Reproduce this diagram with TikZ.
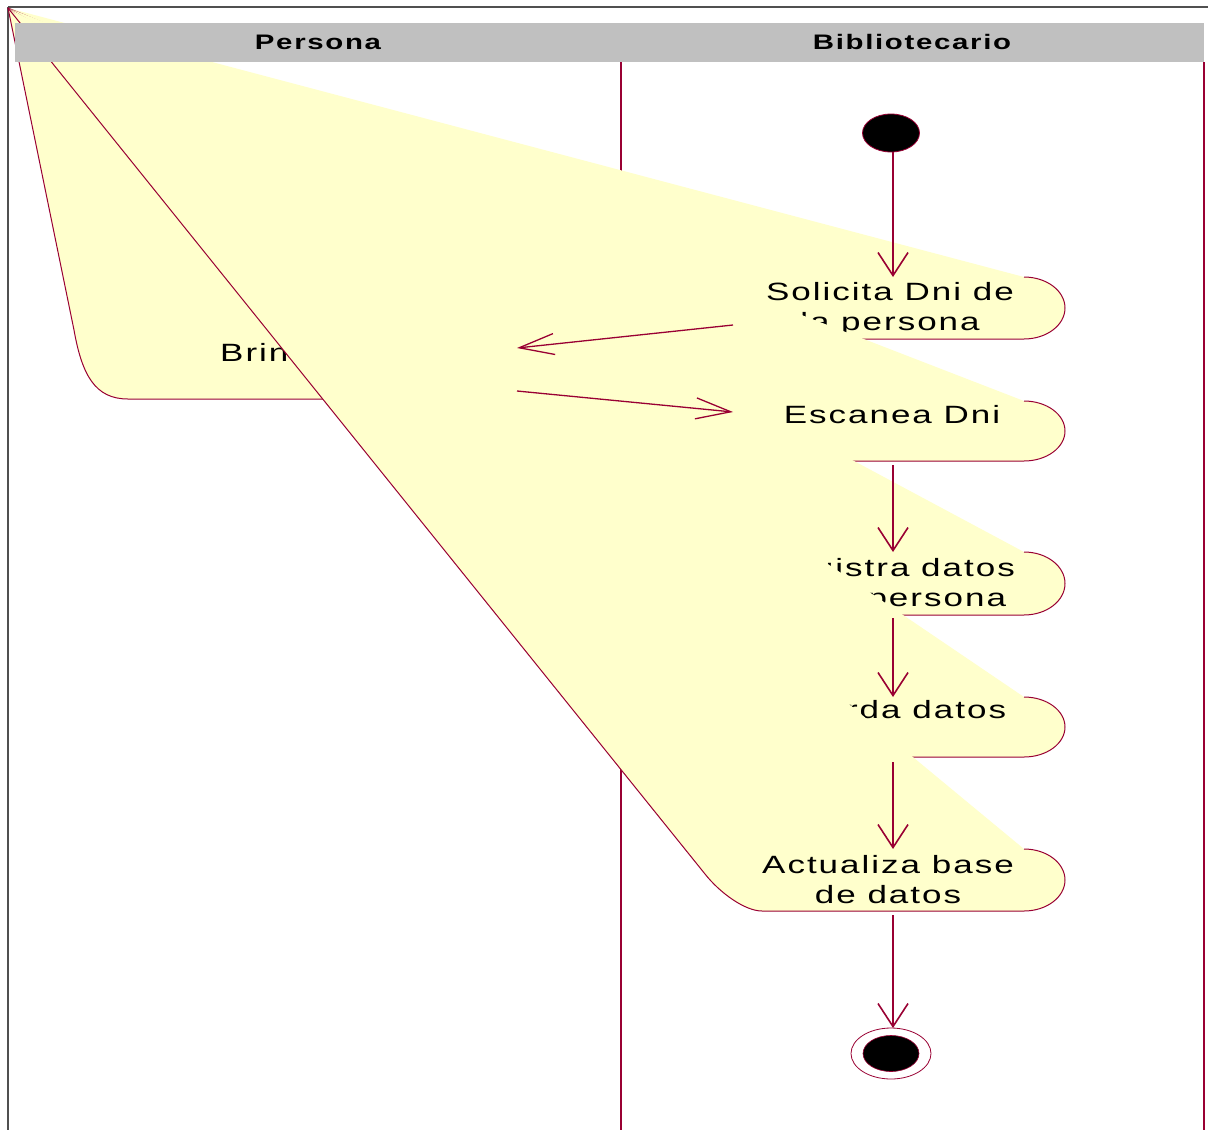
\documentclass[tikz,border=0pt]{standalone}
\usepackage{fontspec}
\setmainfont{Liberation Sans}
\newfontfamily\actfont[FakeStretch=1.4,LetterSpace=8]{Liberation Sans}
\usetikzlibrary{arrows.meta,shapes.geometric}
\definecolor{rosered}{RGB}{153,0,51}
\definecolor{actyellow}{RGB}{255,255,204}
\definecolor{hdrgray}{RGB}{192,192,192}
\definecolor{framegray}{RGB}{80,80,80}
\tikzset{
  actfill/.style={fill=actyellow},
  actline/.style={draw=rosered,line width=1pt},
  lane/.style={draw=rosered,line width=1.3pt},
  frameline/.style={draw=framegray,line width=2.2pt},
  acttext/.style={font={\actfont\fontsize{25}{30}\selectfont},align=center,inner sep=0pt,anchor=base},
  hdrtext/.style={font={\actfont\bfseries\fontsize{21}{25}\selectfont},inner sep=0pt},
  vflow/.style={draw=rosered,line width=1.6pt,-{Straight Barb[length=23pt,width=30pt]}},
  hflow/.style={draw=rosered,line width=1.3pt,-{Straight Barb[length=35pt,width=21pt]}},
}
% activity shape of the Bibliotecario lane: #1 top, #2 bottom
\newcommand\bibshape[2]{%
  \pgfmathsetmacro\ymidv{(#1+#2)/2}%
  \pgfmathsetmacro\yqa{\ymidv-(#2-#1)/2*0.5523}%
  \pgfmathsetmacro\yqb{\ymidv+(#2-#1)/2*0.5523}%
  \fill[actfill] (8,8) -- (1024,#1) .. controls (1046.6,#1) and (1065,\yqa) .. (1065,\ymidv)
     .. controls (1065,\yqb) and (1046.6,#2) .. (1024,#2) -- (762,#2)
     .. controls (745,#2) and (720,#2-18) .. (705,#2-37) -- cycle;
  \draw[actline] (1024,#1) .. controls (1046.6,#1) and (1065,\yqa) .. (1065,\ymidv)
     .. controls (1065,\yqb) and (1046.6,#2) .. (1024,#2) -- (762,#2)
     .. controls (745,#2) and (720,#2-18) .. (705,#2-37) -- (8,8);
}
\begin{document}
\begin{tikzpicture}[x=1pt,y=-1pt]
\useasboundingbox (0,0) rectangle (1208,1130);
\fill[white] (0,0) rectangle (1208,1130);
% frame and swimlane lines
\draw[frameline] (8,7) -- (1208,7);
\draw[frameline] (8,7) -- (8,1130);
\draw[lane] (621,62) -- (621,1130);
\draw[lane] (1204,62) -- (1204,1130);
% Brinda Dni (Persona lane)
\fill[actfill] (8,8) -- (476,338) .. controls (499,338) and (517,352) .. (517,368.5)
   .. controls (517,385) and (499,399) .. (476,399) -- (128,399)
   .. controls (95,399) and (82,375) .. (74,330) -- cycle;
\draw[actline] (476,338) .. controls (499,338) and (517,352) .. (517,368.5)
   .. controls (517,385) and (499,399) .. (476,399) -- (128,399)
   .. controls (95,399) and (82,375) .. (74,330) -- (8,8);
\node[acttext,anchor=base west] (brinda) at (220,361) {Brinda Dni};
% Bibliotecario lane activities
\bibshape{277}{339}
\node[acttext] (solicita) at (890,330) {Solicita Dni de\\la persona};
\bibshape{401}{461}
\node[acttext] (escanea) at (892,423) {Escanea Dni};
\bibshape{552}{615}
\node[acttext] (registra) at (890,606) {Registra datos\\de la persona};
\bibshape{697}{757}
\node[acttext] (guarda) at (890,718) {Guarda datos};
\bibshape{849}{911}
\node[acttext] (actualiza) at (888,903) {Actualiza base\\de datos};
% header
\fill[hdrgray] (15,23) rectangle (1204,62);
\node[hdrtext] (hpersona) at (318,42) {Persona};
\node[hdrtext] (hbiblio) at (912,42) {Bibliotecario};
% start and end
\node[ellipse,draw=rosered,fill=black,line width=0.8pt,minimum width=57pt,minimum height=38pt,inner sep=0pt] (start) at (891,133) {};
\node[ellipse,draw=rosered,fill=white,line width=0.8pt,minimum width=80pt,minimum height=51pt,inner sep=0pt] (finish) at (891,1053.5) {};
\node[ellipse,draw=rosered,fill=black,line width=0.6pt,minimum width=56pt,minimum height=36pt,inner sep=0pt] (finishin) at (891,1053.5) {};
% connector end points
\coordinate (startB) at (893,152);
\coordinate (solT) at (893,277);
\coordinate (solL) at (733,325);
\coordinate (brR1) at (517,348);
\coordinate (brR2) at (517,391);
\coordinate (escL) at (733,412);
\coordinate (escB) at (893,465);
\coordinate (regT) at (893,552);
\coordinate (regB) at (893,618);
\coordinate (guaT) at (893,697);
\coordinate (guaB) at (893,762);
\coordinate (actT) at (893,849);
\coordinate (actB) at (893,915);
\coordinate (finT) at (893,1028);
% transitions
\draw[vflow] (startB) -- (solT);
\draw[hflow] (solL) -- (brR1);
\draw[hflow] (brR2) -- (escL);
\draw[vflow] (escB) -- (regT);
\draw[vflow] (regB) -- (guaT);
\draw[vflow] (guaB) -- (actT);
\draw[vflow] (actB) -- (finT);
\end{tikzpicture}
\end{document}
